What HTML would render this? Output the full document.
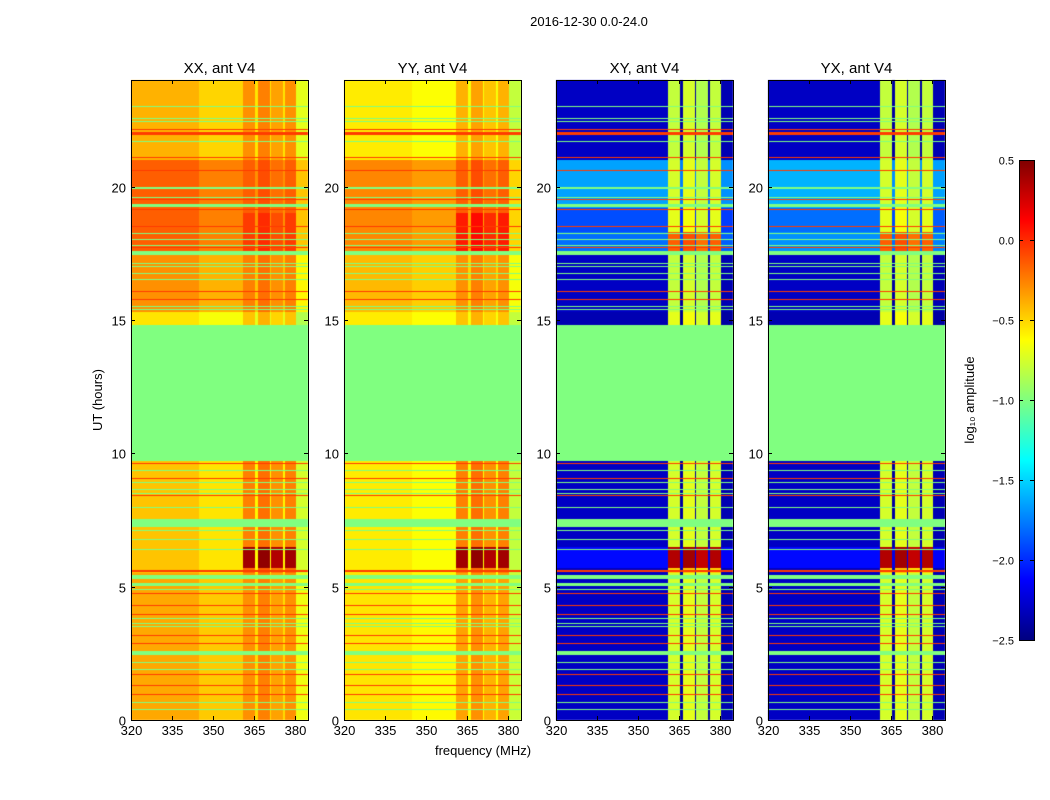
<!DOCTYPE html>
<html><head><meta charset="utf-8">
<style>
body{margin:0;background:#fff;font-family:"Liberation Sans",sans-serif;}
#wrap{position:relative;width:1050px;height:800px;overflow:hidden;}
.t{position:absolute;font-size:13px;color:#000;white-space:nowrap;}
canvas{position:absolute;}
</style></head><body>
<div id="wrap">
<div class="t" style="left:489px;top:14px;width:200px;text-align:center">2016-12-30 0.0-24.0</div>
<svg id="svg" width="1050" height="800" style="position:absolute;left:0;top:0"></svg>
</div>
<script>
// ---- data ----
const panelTitles = ["XX, ant V4","YY, ant V4","XY, ant V4","YX, ant V4"];
const xTicks = [320,335,350,365,380];
const yTicks = [0,5,10,15,20];
const cbTicks = [0.5,0.0,-0.5,-1.0,-1.5,-2.0,-2.5];
const cbLabels = ["0.5","0.0","\u22120.5","\u22121.0","\u22121.5","\u22122.0","\u22122.5"];
// bands: [startHour, endHour, lowFreqLevel, highFreqLevel]
const bandsXX = [[0,5.5,-0.42,-0.3],[5.5,5.7,-0.5,-0.2],[5.7,6.5,-0.5,0.4],[6.5,9.7,-0.5,-0.25],[9.7,14.8,-1,-1],[14.8,15.3,-0.6,-0.45],[15.3,17.5,-0.35,-0.25],[17.5,19,-0.2,-0.05],[19,21,-0.2,-0.15],[21,24,-0.45,-0.3]];
const bandsYY = [[0,5.5,-0.58,-0.35],[5.5,5.7,-0.6,-0.25],[5.7,6.5,-0.6,0.4],[6.5,9.7,-0.6,-0.25],[9.7,14.8,-1,-1],[14.8,15.3,-0.6,-0.45],[15.3,17.5,-0.45,-0.3],[17.5,19,-0.3,0.05],[19,21,-0.3,-0.15],[21,24,-0.6,-0.4]];
const bandsXY = [[0,5.5,-2.3,-0.75],[5.5,5.7,-2.3,-0.5],[5.7,6.5,-2.1,0.35],[6.5,9.7,-2.3,-0.75],[9.7,14.8,-1,-1],[14.8,15.3,-2.35,-0.7],[15.3,17.5,-2.3,-0.8],[17.5,18.3,-1.8,-0.15],[18.3,19.2,-1.9,-0.7],[19.2,21,-1.65,-0.75],[21,24,-2.3,-0.8]];
const bandsYX = [[0,5.5,-2.3,-0.75],[5.5,5.7,-2.3,-0.5],[5.7,6.5,-2.1,0.35],[6.5,9.7,-2.3,-0.75],[9.7,14.8,-1,-1],[14.8,15.3,-2.35,-0.7],[15.3,17.5,-2.3,-0.8],[17.5,18.3,-1.7,-0.15],[18.3,19.2,-1.8,-0.7],[19.2,21,-1.6,-0.75],[21,24,-2.3,-0.8]];
// frequency segments: [f0, f1, useHighLevel(0/1), delta]
const segsXX = [[320,345,0,0.05],[345,361,0,-0.05],[361,365.3,1,0],[365.3,366.3,0,-0.1],[366.3,370.6,1,0.05],[370.6,371.2,0,-0.1],[371.2,375.5,1,-0.05],[375.5,376.3,0,-0.1],[376.3,380.3,1,0],[380.3,384.6,0,-0.25]];
const segsYY = [[320,345,0,0.03],[345,361,0,-0.03],[361,365.3,1,0],[365.3,366.3,0,-0.05],[366.3,370.6,1,0.05],[370.6,371.2,0,-0.05],[371.2,375.5,1,-0.05],[375.5,376.3,0,-0.05],[376.3,380.3,1,0],[380.3,384.6,0,-0.2]];
const segsXY = [[320,361,0,0],[361,365.3,1,0],[365.3,366.3,0,-0.1],[366.3,370.6,1,0.05],[370.6,371.2,0,-0.1],[371.2,375.5,1,-0.05],[375.5,376.3,0,-0.1],[376.3,380.3,1,0],[380.3,384.6,0,-0.05]];
const segsYX = [[320,361,0,0],[361,365.3,1,0],[365.3,366.3,0,-0.1],[366.3,370.6,1,0.05],[370.6,371.2,0,-0.1],[371.2,375.5,1,-0.05],[375.5,376.3,0,-0.1],[376.3,380.3,1,0],[380.3,384.6,0,-0.05]];
// flagged (green) rows [hour, thicknessHours]
const flagRows = [[23.0,0.05],[22.55,0.05],[22.45,0.05],[21.7,0.05],[19.95,0.08],[19.6,0.05],[19.3,0.12],[18.25,0.05],[18.0,0.05],[17.8,0.05],[17.5,0.15],[17.1,0.05],[17.0,0.05],[16.75,0.05],[16.5,0.05],[15.5,0.05],[15.4,0.05],
 [9.35,0.05],[8.9,0.05],[8.65,0.05],[8.5,0.05],[7.95,0.05],[7.4,0.3],[7.1,0.05],[6.75,0.05],[6.4,0.04],[5.35,0.15],[5.1,0.1],[4.9,0.05],[3.8,0.05],[3.6,0.05],[3.5,0.05],[2.5,0.15],[2.15,0.05],[1.9,0.05],[0.65,0.05],[0.4,0.05]];
// red rows [hour, thicknessHours]
const redRows = [[22.15,0.05],[22.0,0.1],[21.1,0.05],[20.6,0.05],[19.5,0.05],[19.15,0.05],[18.5,0.05],[17.7,0.05],[16.05,0.05],[15.75,0.05],[9.6,0.05],[9.05,0.05],[8.4,0.05],[5.6,0.06],[4.75,0.05],[4.3,0.05],[3.95,0.05],[3.15,0.05],[2.85,0.05],[1.7,0.05],[1.3,0.05],[0.95,0.05]];
const allBands=[bandsXX,bandsYY,bandsXY,bandsYX];
const allSegs=[segsXX,segsYY,segsXY,segsYX];
// ---- layout ----
const panelX=[131,344,556,768], PW=177, PT=80, PB=720;
const F0=320,F1=384.6,T0=0,T1=24,VMIN=-2.5,VMAX=0.5;
const xs=(p,f)=>panelX[p]+(f-F0)/(F1-F0)*PW;
const ys=h=>PB-(h-T0)/(T1-T0)*(PB-PT);
function jet(v){let t=(v-VMIN)/(VMAX-VMIN);t=Math.max(0,Math.min(1,t));
 const c=x=>Math.round(255*Math.max(0,Math.min(1,x)));
 return `rgb(${c(1.5-Math.abs(4*t-3))},${c(1.5-Math.abs(4*t-2))},${c(1.5-Math.abs(4*t-1))})`;}
const wrap=document.getElementById('wrap');
const svg=document.getElementById('svg');
const NS="http://www.w3.org/2000/svg";
function txt(x,y,s,anchor,size,rot){const e=document.createElementNS(NS,'text');e.setAttribute('x',x);e.setAttribute('y',y);e.setAttribute('font-size',size||13);e.setAttribute('text-anchor',anchor||'middle');e.setAttribute('font-family','Liberation Sans, sans-serif');if(rot)e.setAttribute('transform',`rotate(-90 ${x} ${y})`);e.textContent=s;svg.appendChild(e);return e;}
function line(x1,y1,x2,y2){const e=document.createElementNS(NS,'line');e.setAttribute('x1',x1);e.setAttribute('y1',y1);e.setAttribute('x2',x2);e.setAttribute('y2',y2);e.setAttribute('stroke','#000');e.setAttribute('stroke-width',1);svg.appendChild(e);return e;}
const R=Math.round;
for(let p=0;p<4;p++){
 const cv=document.createElement('canvas');cv.width=1050;cv.height=800;cv.style.left='0';cv.style.top='0';
 
 
 wrap.insertBefore(cv,svg);
 const ctx=cv.getContext('2d');
 for(const b of allBands[p]){
  for(const s of allSegs[p]){
   let v=(s[2]?b[3]:b[2]);
   if(!(b[2]===-1&&b[3]===-1)) v+=s[3];
   ctx.fillStyle=jet(v);
   const x0=R(xs(p,s[0])),x1=R(xs(p,s[1])),y0=R(ys(b[1])),y1=R(ys(b[0]));
   ctx.fillRect(x0,y0,x1-x0,y1-y0);
  }
 }
 const xL=R(xs(p,F0)),xR=R(xs(p,F1));
 for(const r of redRows){ctx.fillStyle=jet(-0.05);const y0=R(ys(r[0]+r[1]/2));ctx.fillRect(xL,y0,xR-xL,Math.max(1,R(r[1]*(PB-PT)/24)));}
 for(const r of flagRows){ctx.fillStyle=jet(-1);const y0=R(ys(r[0]+r[1]/2));ctx.fillRect(xL,y0,xR-xL,Math.max(1,R(r[1]*(PB-PT)/24)));}
 const r=document.createElementNS(NS,'rect');r.setAttribute('x',panelX[p]+0.5);r.setAttribute('y',PT+0.5);r.setAttribute('width',PW);r.setAttribute('height',PB-PT);r.setAttribute('fill','none');r.setAttribute('stroke','#000');
 svg.appendChild(r);
 const tt=txt(panelX[p]+PW/2,73,panelTitles[p],'middle',15);
 
 for(const f of xTicks){const x=Math.round(xs(p,f))+0.5;line(x,PB,x,PB-4);line(x,PT,x,PT+4);
  const l=txt(x,735,String(f));}
 for(const h of yTicks){const y=Math.round(ys(h))+0.5;line(panelX[p],y,panelX[p]+4,y);line(panelX[p]+PW,y,panelX[p]+PW-4,y);
  const l=txt(panelX[p]-5,y+5,String(h),'end');}
}
let e=txt(102,400,'UT (hours)','middle',13,true);
e=txt(483,755,'frequency (MHz)');
// colorbar
const CBX=1019,CBW=15,CBT=160,CBB=640;
const cs=v=>CBB-(v-VMIN)/(VMAX-VMIN)*(CBB-CBT);
for(let y=CBT;y<CBB;y++){const v=VMAX-(y-CBT+0.5)/(CBB-CBT)*(VMAX-VMIN);const r=document.createElementNS(NS,'rect');r.setAttribute('x',CBX);r.setAttribute('y',y);r.setAttribute('width',CBW);r.setAttribute('height',1.2);r.setAttribute('fill',jet(v));svg.appendChild(r);}
const cbf=document.createElementNS(NS,'rect');cbf.setAttribute('x',CBX+0.5);cbf.setAttribute('y',CBT+0.5);cbf.setAttribute('width',CBW);cbf.setAttribute('height',CBB-CBT);cbf.setAttribute('fill','none');cbf.setAttribute('stroke','#000');
svg.appendChild(cbf);
cbTicks.forEach((v,i)=>{const y=Math.round(cs(v))+0.5;line(CBX,y,CBX+4,y);line(CBX+CBW-4,y,CBX+CBW,y);
 const l=txt(1014,y+4,cbLabels[i],'end',11);});
e=txt(974,400,'log\u2081\u2080 amplitude','middle',13,true);
</script>
</body></html>
